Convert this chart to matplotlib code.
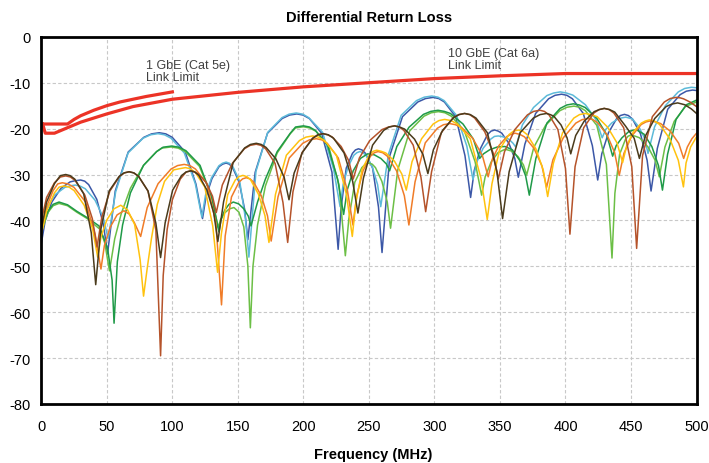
import matplotlib.pyplot as plt

plt.rcParams['font.family'] = ['Liberation Sans', 'DejaVu Sans']
plt.rcParams['axes.unicode_minus'] = False

# limit lines (MHz, dB)
gbe1_limit = [(1, -19), (20, -19), (25, -18.0), (30, -17.2), (40, -16.0), (50, -15.0),
              (60, -14.2), (70, -13.6), (80, -13.0), (90, -12.5), (100, -12.0)]
gbe10_limit = [(1, -19), (3, -21), (10, -21), (20, -19.8), (30, -18.6), (40, -17.7),
               (50, -16.8), (70, -15.2), (100, -13.6), (150, -12.1), (200, -10.9),
               (250, -10.0), (300, -9.1), (350, -8.5), (400, -8.0), (450, -8.0), (500, -8.0)]

# measured pairs (MHz, dB)
pair_dark_blue = [
    (0, -45), (3, -40), (8, -36), (15, -33), (22, -31.6), (26, -31.35), (30, -31.2), (33.1, -31.45),
    (36.1, -32.2), (42.3, -35.4), (47.4, -40.9), (50.5, -47.3), (56.4, -33.6), (66.3, -25.1),
    (78.2, -21.9), (84.1, -21.15), (90, -20.9), (95, -21.15), (99.9, -21.9), (109.8, -25.1),
    (118, -32.1), (123, -39.6), (125.7, -34.8), (130.2, -30.9), (135.6, -28.3), (138.3, -27.75),
    (141, -27.5), (143.5, -27.75), (146, -28.5), (151, -31.7), (155.1, -37.5), (157.6, -44.2),
    (163.2, -29.5), (172.6, -21), (183.8, -17.8), (189.4, -17.05), (195, -16.8), (199.7, -17.05),
    (204.5, -17.8), (213.9, -21), (221.8, -29.5), (226.5, -46.3), (228.8, -37.1), (232.7, -28.6),
    (237.4, -25.4), (239.7, -24.65), (242, -24.4), (244.7, -24.65), (247.4, -25.4), (252.8, -28.6),
    (257.3, -37.1), (260, -47), (265.9, -25.9), (275.6, -17.4), (287.3, -14.2), (293.2, -13.45),
    (299, -13.2), (303.3, -13.45), (307.6, -14.2), (316.2, -17.4), (323.3, -25.9), (327.6, -35),
    (330.4, -29.1), (335, -24.4), (340.5, -21.3), (343.2, -20.55), (346, -20.3), (348.7, -20.55),
    (351.4, -21), (356.8, -23.2), (361.3, -26.5), (364, -30.6), (369, -23.4), (377.2, -16.7),
    (387.1, -13.5), (392, -12.75), (397, -12.5), (401.1, -12.75), (405.3, -13.5), (413.6, -16.7),
    (420.5, -23.7), (424.6, -31.2), (427.7, -25.5), (432.8, -20.9), (438.9, -17.9), (441.9, -17.15),
    (445, -16.9), (448, -17.15), (451.1, -17.9), (457.2, -21.1), (462.3, -26.9), (465.3, -33.6),
    (470.1, -24.3), (478, -15.8), (487.5, -12.6), (492.2, -11.85), (497, -11.6), (500, -11.7)]

pair_light_blue = [
    (0, -42), (4, -37.5), (10, -34.5), (18, -32.8), (22.5, -32.45), (26, -32.3), (29.8, -32.55),
    (33.5, -33.1), (41, -35.6), (47.2, -39.3), (51, -44), (56.7, -33.8), (66.2, -25.3), (77.6, -22.1),
    (83.3, -21.35), (89, -21.1), (94, -21.35), (99, -22.1), (109.1, -25.3), (117.5, -32),
    (122.5, -39.3), (125.3, -34.5), (129.9, -30.7), (135.5, -28.1), (138.2, -27.55), (141, -27.3),
    (143.6, -27.55), (146.2, -28.3), (151.4, -31.5), (155.8, -39.7), (158.4, -48), (163.8, -29.3),
    (172.8, -20.8), (183.7, -17.6), (189.1, -16.85), (194.5, -16.6), (199.5, -16.85), (204, -17.6),
    (214.6, -20.8), (223, -28.8), (228, -37), (230.3, -32.2), (234, -28.4), (238.5, -25.8),
    (240.8, -25.25), (243, -25), (245.4, -25.25), (247.8, -25.8), (252.6, -28.4), (256.6, -32.2),
    (259, -37), (264.9, -25.6), (274.6, -17.1), (286.3, -13.9), (292.2, -13.15), (298, -12.9),
    (302.7, -13.15), (307.4, -13.9), (316.8, -17.1), (324.7, -23.8), (329.4, -31.1), (332.3, -27.3),
    (337.1, -24.3), (342.9, -22.3), (345.8, -21.7), (348.7, -21.6), (352.7, -21.8), (356.7, -22.3),
    (360, -23.2), (362, -24), (367.1, -19.2), (375.6, -15.4), (385.8, -12.8), (390.9, -12.25),
    (396, -12), (400.8, -12.25), (405.6, -12.7), (415.2, -14.8), (423.2, -18), (428, -22),
    (430.7, -20.2), (435.2, -18.8), (440.6, -17.8), (446, -17.5), (451.1, -17.9), (456.2, -19.7),
    (460.5, -22.2), (463, -25.4), (468, -19.6), (476.2, -15), (486.1, -12), (491, -11.25),
    (496, -11), (500, -11.1)]

pair_green = [
    (0, -42), (5, -38), (9, -36.5), (13.5, -36), (20, -36.6), (27, -38), (35, -39.4), (44, -41.2),
    (50.5, -46), (54, -53), (55.5, -62.4), (58, -49), (62, -41), (68, -34), (78, -28), (88, -25),
    (92.9, -24.05), (99.5, -23.8), (104.9, -24.05), (110.3, -24.8), (121.1, -28), (130.1, -35),
    (135.5, -42.5), (137.1, -39.9), (139.9, -37.8), (143.2, -36.5), (146.5, -36), (150.6, -36.4),
    (154.6, -37.5), (158, -39.1), (160, -41.2), (165, -36), (171, -31), (180, -25), (190, -21),
    (194, -19.65), (200, -19.4), (204.6, -19.65), (209.2, -20.4), (218.4, -23.6), (226.1, -31),
    (230.7, -38.7), (233.4, -33.4), (238, -29.2), (243.5, -26.5), (249, -25.5), (254, -25.7),
    (259.1, -26.5), (263.3, -27.7), (265.8, -29.2), (271.3, -23.9), (280.6, -19.7), (291.6, -16.9),
    (297.2, -16.25), (302.7, -16), (307.5, -16.25), (312.2, -16.7), (321.8, -19), (329.7, -22.3),
    (334.5, -26.5), (337.4, -25.5), (342.2, -24.6), (348, -24), (353.8, -23.9), (359.4, -24.6),
    (365, -26.9), (369.6, -30.3), (372.4, -34.5), (377.4, -26.5), (385.8, -18.8), (395.9, -15.6),
    (401, -14.85), (406, -14.6), (410.5, -14.85), (415, -15.4), (424, -17.8), (431.5, -21.4),
    (436, -26), (438.7, -23.7), (443.1, -22), (448.5, -20.6), (453.8, -20.2), (459.9, -21.2),
    (465.9, -23.9), (471, -28.1), (474, -33.4), (477.9, -25.6), (484.4, -18), (492.2, -14.8),
    (500, -13.8)]

pair_light_green = [
    (0, -42.5), (5, -38.3), (9, -36.8), (13.5, -36.3), (20, -36.8), (27, -38.2), (35, -39.6),
    (45, -42), (48.5, -45), (52, -51), (56, -44), (61, -38.5), (68, -33), (78, -28), (88, -25),
    (92, -24.25), (99, -24), (104.4, -24.25), (109.8, -25), (120.6, -28.2), (129.6, -34.5),
    (135, -41.5), (136.8, -39.8), (139.8, -38.4), (143.4, -37.5), (147, -37.2), (150.8, -38.2),
    (154.5, -41.4), (157.6, -49.9), (159.5, -63.4), (161.5, -50), (165, -41), (171, -32.5),
    (180, -25.3), (190, -21.1), (194, -19.85), (200, -19.6), (204.8, -19.85), (209.6, -20.6),
    (219.2, -23.8), (227.2, -32.3), (232, -47.7), (234.7, -39.6), (239.2, -31.7), (244.6, -28.5),
    (247.3, -27.75), (250, -27.5), (252.5, -27.75), (255, -28.5), (259.9, -31.5), (264, -36),
    (266.5, -41.7), (272, -29), (281.1, -20.5), (292, -17.3), (297.5, -16.55), (303, -16.3),
    (308, -16.55), (312.9, -17.3), (322.8, -20.5), (331, -27.2), (336, -34.5), (338.7, -30.5),
    (343.2, -27.3), (348.6, -25.2), (354, -24.5), (358.9, -24.9), (363.8, -26.1), (367.9, -27.9),
    (370.4, -30.1), (375.8, -24.1), (384.8, -19.3), (395.7, -16.1), (401.1, -15.35), (406.5, -15.1),
    (410.9, -15.35), (415.2, -16.1), (423.9, -19.3), (431.2, -27.8), (435.5, -48.2), (437.7, -34.1),
    (441.3, -25.6), (445.7, -22.4), (447.8, -21.65), (450, -21.4), (453.2, -21.65), (456.5, -22),
    (463, -24), (468.4, -26.9), (471.6, -30.5), (475.9, -24), (483, -18.4), (491.5, -15.2),
    (500, -14.2)]

pair_orange = [
    (0, -42), (4, -37), (9, -33.5), (12.5, -32.05), (16, -31.8), (20.4, -32.05), (24.9, -32.8),
    (33.8, -36), (41.1, -43.1), (45.5, -50.6), (48.1, -45.5), (52.5, -41.5), (57.8, -38.8),
    (63, -37.9), (67, -38.6), (71, -40.5), (75.8, -43.5), (80.8, -37.2), (89.1, -32), (99, -28.8),
    (104, -28.05), (109, -27.8), (113.3, -28.05), (117.6, -28.8), (126.4, -32), (133.2, -40.5),
    (137.5, -58.4), (140.3, -43.4), (145.1, -34.9), (150.7, -31.7), (153.6, -30.95), (156.4, -30.7),
    (159.3, -30.95), (162.1, -31.7), (167.8, -34.6), (172.6, -39), (175.4, -44.5), (180.6, -34.9),
    (189.2, -26.4), (199.5, -23.2), (204.6, -22.45), (209.8, -22.2), (214, -22.45), (218.2, -23.2),
    (226.6, -26.4), (233.6, -33.5), (237.8, -41), (240.7, -34.6), (245.5, -29.2), (251.2, -26),
    (254.1, -25.25), (257, -25), (260.5, -25.25), (264, -26), (271.1, -29.2), (277, -34.6),
    (280.5, -41), (285.2, -31.6), (293, -23.1), (302.3, -19.9), (306.9, -19.15), (311.6, -18.9),
    (316, -19.15), (320.4, -19.7), (329.2, -22.1), (336.6, -25.9), (341, -30.5), (344.1, -26.7),
    (349.2, -23.7), (355.4, -21.7), (358.4, -21.25), (361.5, -21), (365.1, -21.25), (368.7, -21.8),
    (376, -24.3), (382, -28.1), (385.6, -32.8), (390.4, -26.8), (398.3, -22), (407.9, -18.8),
    (412.6, -18.05), (417.4, -17.8), (421, -18.05), (424.5, -18.7), (431.6, -21.3), (437.5, -25.2),
    (441, -30.2), (444.6, -25.4), (450.6, -21.6), (457.8, -19.1), (461.4, -18.55), (465, -18.3),
    (468.8, -18.55), (472.6, -18.9), (480.1, -20.6), (486.4, -23.2), (490.2, -26.5), (493, -24),
    (496.5, -22.2), (500, -21)]

pair_yellow = [
    (0, -43), (4, -38), (10, -34), (13.5, -32.75), (17.3, -32.5), (21.2, -32.75), (25, -33.5),
    (32.7, -36.7), (39.1, -41.8), (43, -48), (45.6, -43.5), (50, -39.9), (55.3, -37.5),
    (60.6, -36.7), (65.8, -37.7), (71.2, -40.9), (75.4, -48.6), (78, -56.5), (81, -50), (84, -44),
    (88.5, -36.5), (94, -31.5), (101, -29), (105.2, -28.75), (110, -28.5), (113.7, -28.75),
    (117.4, -29.5), (124.7, -32.7), (130.8, -41.2), (134.5, -51.3), (137.4, -42.9), (142.2, -34.4),
    (148, -31.2), (150.9, -30.45), (153.8, -30.2), (156.8, -30.45), (159.8, -31.2), (165.7, -34.3),
    (170.7, -39), (173.7, -44.8), (178.7, -34.3), (187, -25.8), (197, -22.6), (202, -21.85),
    (207, -21.6), (211.5, -21.85), (216.1, -22.6), (225.2, -25.8), (232.8, -34.3), (237.3, -43.5),
    (240.1, -36), (244.8, -28.9), (250.4, -25.7), (253.2, -24.95), (256, -24.7), (259.4, -24.95),
    (262.8, -25.3), (269.5, -27.1), (275.1, -29.9), (278.5, -33.4), (282.9, -27.2), (290.2, -22.2),
    (299, -19), (303.4, -18.25), (307.8, -18), (312.7, -18.25), (317.5, -19), (327.3, -22.2),
    (335.4, -30.7), (340.3, -39.8), (343.9, -32), (349.8, -24.5), (356.9, -21.3), (360.4, -20.55),
    (364, -20.3), (367.4, -20.55), (370.7, -21.3), (377.4, -24.4), (383, -29), (386.4, -34.8),
    (390.7, -27.6), (397.8, -20.9), (406.4, -17.7), (410.7, -16.95), (415, -16.7), (419.3, -16.95),
    (424.2, -17.4), (432.2, -19.7), (439.3, -23.1), (443.6, -27.4), (446.7, -23.7), (451.8, -20.7),
    (457.9, -18.8), (460.9, -18.35), (464, -18.1), (467.9, -18.35), (471.8, -19.1), (479.6, -22.2),
    (486.1, -26.9), (490, -32.7), (492, -27.5), (495.5, -24), (500, -21.8)]

pair_brown = [
    (0, -40), (4, -35), (10, -31.8), (14.5, -30.55), (18.6, -30.3), (22.2, -30.55), (25.8, -31.3),
    (33.2, -34.5), (38.9, -39.6), (42.5, -45.8), (46.2, -39.2), (52.3, -33.6), (59.7, -30.4),
    (63.3, -29.65), (67, -29.4), (70.6, -29.65), (74.2, -30.4), (81.4, -33.6), (87.4, -42.1),
    (91, -69.5), (93, -52), (96, -42), (100, -35.5), (106, -31), (110.5, -29.45), (114, -29.2),
    (116.9, -29.45), (119.9, -29.9), (125.7, -31.7), (130.6, -34.7), (133.5, -38.3), (138.1, -32.3),
    (145.7, -27.6), (154.9, -24.4), (159.4, -23.65), (164, -23.4), (167.6, -23.65), (171.2, -24.4),
    (178.4, -27.6), (184.4, -36.1), (188, -44.8), (192, -33.8), (198.8, -25.3), (206.9, -22.1),
    (211, -21.35), (215, -21.1), (218.5, -21.35), (221.9, -21.8), (228.8, -23.9), (234.6, -27),
    (238, -31), (242.7, -26.4), (250.6, -22.6), (260.1, -20.2), (264.9, -19.65), (269.6, -19.4),
    (273.2, -19.65), (276.7, -20.4), (283.8, -23.6), (289.7, -30.6), (293.3, -38.1), (297.8, -29.4),
    (305.2, -20.9), (314.1, -17.7), (318.5, -16.95), (323, -16.7), (326.9, -16.95), (330.7, -17.7),
    (338.4, -20.7), (344.8, -25.3), (348.7, -31), (353.5, -25), (361.4, -20.2), (371, -17),
    (375.7, -16.25), (380.5, -16), (383.9, -16.25), (387.4, -17), (394.2, -20.2), (400, -28.7),
    (403.4, -43), (407.3, -28.3), (413.9, -19.8), (421.7, -16.6), (425.7, -15.85), (429.6, -15.6),
    (433.3, -15.85), (436.9, -16.6), (444.4, -19.8), (450.6, -28.3), (454.3, -46.1), (458.8, -25.9),
    (466.3, -17.4), (475.4, -14.2), (479.9, -13.45), (484.4, -13.2), (487.5, -13.3), (490, -13.5),
    (495, -14.2), (500, -15.2)]

pair_dark_brown = [
    (0, -42), (4, -36), (10, -32), (14.5, -30.25), (18.6, -30), (22, -30.25), (25.5, -31),
    (32.3, -34.2), (38.1, -42.7), (41.5, -54), (45.3, -42.1), (51.7, -33.6), (59.4, -30.4),
    (63.2, -29.65), (67, -29.4), (70.6, -29.65), (74.2, -30.4), (81.4, -33.6), (87.4, -40.6),
    (91, -48.1), (94.5, -40.5), (100.2, -33.4), (107.1, -30.2), (110.5, -29.45), (114, -29.2),
    (117.1, -29.45), (120.2, -30.2), (126.4, -33.4), (131.6, -38.4), (134.7, -44.6), (139.1, -35.9),
    (146.4, -27.4), (155.2, -24.2), (159.6, -23.45), (164, -23.2), (167.8, -23.45), (171.5, -24.1),
    (179, -26.6), (185.3, -30.6), (189, -35.5), (192.9, -29.7), (199.4, -25.1), (207.2, -22.1),
    (211.1, -21.35), (215, -21.1), (219, -21.35), (223, -22.1), (231, -25.3), (237.6, -31.5),
    (241.6, -38.4), (245.8, -30.8), (252.8, -23.6), (261.2, -20.4), (265.4, -19.65), (269.6, -19.4),
    (273.4, -19.65), (277.2, -20.1), (284.8, -22.3), (291.2, -25.6), (295, -29.8), (299.2, -24.6),
    (306.2, -20.4), (314.6, -17.6), (318.8, -16.95), (323, -16.7), (327.4, -16.95), (331.7, -17.7),
    (340.4, -20.9), (347.7, -29.4), (352, -39.6), (357, -29.4), (365.4, -20.9), (375.5, -17.7),
    (380.6, -16.95), (385.6, -16.7), (388.4, -16.95), (391.1, -17.3), (396.6, -19.2), (401.2, -22),
    (404, -25.5), (407.8, -21.5), (414.2, -18.4), (421.9, -16.3), (425.8, -15.85), (429.6, -15.6),
    (433.6, -15.85), (437.6, -16.4), (445.7, -19.4), (452.4, -22.1), (456.4, -26.5), (460.8, -21.7),
    (468.1, -17.8), (476.8, -15.2), (481.2, -14.65), (485.6, -14.4), (491, -14.8), (496, -15.7),
    (500, -16.7)]

x_ticks = [0, 50, 100, 150, 200, 250, 300, 350, 400, 450, 500]
y_ticks = [0, -10, -20, -30, -40, -50, -60, -70, -80]

curves = [
    (pair_dark_blue, '#3b57a7'),
    (pair_light_blue, '#5cbad9'),
    (pair_light_green, '#6cbf46'),
    (pair_green, '#1f9a48'),
    (pair_orange, '#f07c28'),
    (pair_yellow, '#ffc20e'),
    (pair_brown, '#b5532a'),
    (pair_dark_brown, '#4a3b1c'),
]

fig = plt.figure(figsize=(7.09, 4.64), dpi=100)
ax = fig.add_axes([0.0583, 0.1272, 0.9241, 0.7913])

for pts, col in curves:
    f, v = zip(*pts)
    ax.plot(f, v, color=col, lw=1.1, solid_joinstyle='round')

red = '#ec3326'
for pts in (gbe1_limit, gbe10_limit):
    f, v = zip(*pts)
    ax.plot(f, v, color=red, lw=2.3, solid_joinstyle='round')

ax.text(79.5, -4.8, '1 GbE (Cat 5e)\nLink Limit', fontsize=9, color='#404040',
        va='top', ha='left', linespacing=1.05)
ax.text(310, -2.2, '10 GbE (Cat 6a)\nLink Limit', fontsize=9, color='#404040',
        va='top', ha='left', linespacing=1.05)

ax.set_xlim(0, 500)
ax.set_ylim(-80, 0)
ax.set_xticks(x_ticks)
ax.set_yticks(y_ticks)
ax.set_xticklabels([str(t) for t in x_ticks])
ax.set_yticklabels([str(t) for t in y_ticks])
ax.grid(True, ls=(0, (3, 2)), color='#c8c8c8', lw=0.8)
ax.set_axisbelow(True)
ax.tick_params(length=0, labelsize=10.5)
ax.tick_params(axis='y', pad=8)
ax.tick_params(axis='x', pad=11)
for s in ax.spines.values():
    s.set_linewidth(2)
    s.set_color('black')

fig.text(0.5204, 0.961, 'Differential Return Loss', ha='center', va='center',
         fontsize=10.5, fontweight='bold')
fig.text(0.526, 0.0194, 'Frequency (MHz)', ha='center', va='center',
         fontsize=10.5, fontweight='bold')

fig.savefig('out.png', dpi=100)
